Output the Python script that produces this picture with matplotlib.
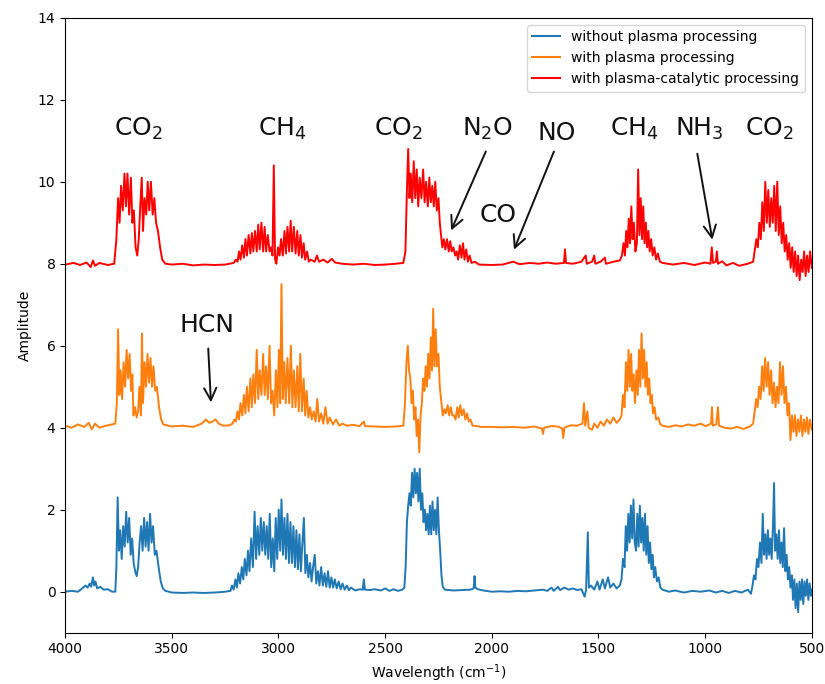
import matplotlib
matplotlib.use('Agg')
import matplotlib.pyplot as plt

# spectra: (wavenumber cm-1, amplitude) pairs
# blue - without plasma processing (offset 0)
blue = [
    (4000, 0.0), (3970, 0.02), (3940, 0.0), (3920, 0.08), (3905, 0.15), (3895, 0.1), (3885, 0.2), (3878, 0.12),
    (3870, 0.35), (3864, 0.15), (3858, 0.25), (3850, 0.08), (3835, 0.12), (3820, 0.05), (3800, 0.06), (3780, 0.0),
    (3765, 0.0), (3760, 0.6), (3754, 2.3), (3748, 1.0), (3742, 1.5), (3735, 0.8), (3728, 1.6), (3721, 1.1),
    (3714, 1.95), (3707, 1.2), (3700, 1.8), (3693, 0.9), (3686, 1.3), (3679, 0.7), (3672, 0.5), (3665, 0.38),
    (3658, 0.6), (3651, 1.2), (3644, 1.6), (3637, 1.0), (3630, 1.8), (3623, 1.1), (3616, 1.7), (3609, 1.0),
    (3602, 1.9), (3595, 1.2), (3588, 1.6), (3580, 0.9), (3572, 1.0), (3562, 0.6), (3552, 0.25), (3542, 0.08),
    (3530, 0.02), (3500, -0.02), (3450, -0.03), (3400, -0.02), (3350, -0.03), (3300, -0.02), (3250, 0.0),
    (3225, 0.02), (3218, 0.15), (3210, 0.05), (3202, 0.3), (3195, 0.1), (3188, 0.45), (3180, 0.2), (3172, 0.6),
    (3165, 0.3), (3158, 0.8), (3150, 0.4), (3143, 1.0), (3136, 0.5), (3128, 1.3), (3120, 0.6), (3112, 1.95),
    (3105, 0.8), (3098, 1.6), (3090, 0.9), (3083, 1.8), (3076, 1.0), (3069, 1.7), (3062, 0.9), (3055, 1.6),
    (3048, 0.8), (3041, 1.9), (3034, 0.6), (3027, 1.3), (3020, 0.5), (3013, 1.8), (3006, 0.8), (2999, 2.0),
    (2992, 1.0), (2986, 2.25), (2979, 0.9), (2972, 1.8), (2965, 0.8), (2958, 1.9), (2951, 0.7), (2944, 1.7),
    (2937, 0.7), (2930, 1.6), (2923, 0.6), (2916, 1.5), (2909, 0.55), (2902, 1.4), (2895, 0.5), (2888, 1.2),
    (2881, 1.8), (2874, 0.45), (2867, 0.9), (2860, 0.35), (2852, 0.7), (2845, 0.25), (2838, 0.6), (2830, 0.9),
    (2823, 0.2), (2815, 0.5), (2808, 0.15), (2800, 0.6), (2792, 0.15), (2784, 0.45), (2776, 0.12), (2768, 0.5),
    (2760, 0.1), (2752, 0.35), (2744, 0.1), (2736, 0.3), (2727, 0.08), (2718, 0.25), (2709, 0.06), (2700, 0.2),
    (2690, 0.05), (2680, 0.15), (2670, 0.04), (2660, 0.1), (2640, 0.03), (2620, 0.06), (2605, 0.05), (2600, 0.3),
    (2595, 0.05), (2570, 0.04), (2550, 0.06), (2520, 0.03), (2500, 0.08), (2480, 0.02), (2460, 0.06), (2440, 0.02),
    (2420, 0.05), (2410, 0.1), (2404, 0.6), (2398, 1.7), (2392, 2.1), (2386, 2.4), (2380, 2.1), (2374, 2.9),
    (2368, 2.3), (2362, 3.0), (2356, 2.4), (2350, 2.9), (2344, 2.2), (2338, 3.0), (2332, 2.0), (2326, 2.4),
    (2320, 1.7), (2314, 2.0), (2308, 1.5), (2302, 1.9), (2296, 1.4), (2290, 2.1), (2284, 1.4), (2278, 2.2),
    (2272, 1.5), (2266, 2.0), (2260, 1.4), (2254, 2.3), (2248, 1.5), (2242, 1.0), (2236, 0.4), (2230, 0.12),
    (2220, 0.05), (2180, 0.03), (2140, 0.04), (2100, 0.05), (2085, 0.08), (2081, 0.38), (2077, 0.1), (2065, 0.06),
    (2040, 0.03), (2000, 0.0), (1960, 0.01), (1920, 0.0), (1880, 0.02), (1840, 0.01), (1800, 0.03), (1760, 0.05),
    (1740, 0.02), (1720, 0.1), (1710, 0.02), (1690, 0.12), (1680, 0.04), (1660, 0.1), (1640, 0.05), (1620, 0.08),
    (1600, 0.04), (1580, 0.06), (1565, -0.12), (1558, 0.05), (1550, 1.45), (1545, 0.1), (1535, 0.15), (1520, 0.05),
    (1505, 0.25), (1495, 0.05), (1480, 0.3), (1470, 0.08), (1455, 0.35), (1445, 0.1), (1430, 0.2), (1415, 0.08),
    (1400, 0.15), (1392, 0.3), (1385, 0.8), (1378, 0.6), (1372, 1.6), (1366, 1.0), (1360, 1.9), (1354, 1.2),
    (1348, 2.1), (1342, 1.3), (1336, 2.25), (1330, 1.2), (1324, 1.0), (1318, 1.9), (1312, 1.1), (1306, 2.1),
    (1300, 1.2), (1294, 1.8), (1288, 1.0), (1282, 1.9), (1276, 0.9), (1270, 1.6), (1264, 0.7), (1258, 1.2),
    (1252, 0.55), (1246, 0.9), (1240, 0.35), (1234, 0.6), (1226, 0.25), (1218, 0.35), (1210, 0.1), (1200, 0.05),
    (1170, 0.0), (1140, 0.03), (1100, -0.02), (1060, 0.02), (1020, 0.0), (980, 0.03), (950, -0.02), (920, 0.02),
    (890, -0.03), (860, 0.02), (830, -0.02), (800, 0.05), (785, -0.05), (778, 0.15), (771, 0.4), (764, 0.3),
    (757, 0.8), (750, 0.6), (743, 1.2), (736, 0.7), (730, 1.9), (724, 0.9), (718, 1.4), (712, 0.8), (706, 1.5),
    (700, 0.9), (694, 1.3), (688, 0.8), (682, 1.6), (677, 2.65), (672, 1.0), (666, 1.4), (660, 0.8), (654, 1.5),
    (648, 0.7), (642, 1.2), (636, 0.6), (630, 1.55), (624, 0.5), (618, 0.9), (612, 0.3), (606, 0.6), (600, 0.1),
    (594, 0.4), (588, -0.2), (582, 0.3), (576, -0.4), (570, 0.2), (564, -0.5), (558, 0.25), (552, -0.2),
    (546, 0.3), (540, -0.3), (534, 0.25), (528, -0.1), (522, 0.3), (516, -0.2), (510, 0.2), (504, -0.1), (500, 0.05),
]

# orange - with plasma processing (offset 4)
orange = [
    (4000, 4.05), (3970, 4.0), (3940, 4.08), (3910, 4.02), (3890, 4.12), (3875, 3.96), (3860, 4.1), (3840, 4.0),
    (3810, 4.05), (3780, 4.08), (3765, 4.1), (3758, 4.6), (3752, 6.4), (3746, 4.8), (3740, 5.4), (3733, 4.7),
    (3726, 5.6), (3719, 5.0), (3712, 5.9), (3705, 5.2), (3698, 5.8), (3691, 4.9), (3685, 5.3), (3680, 4.3),
    (3672, 4.5), (3665, 4.25), (3658, 4.4), (3652, 5.0), (3645, 4.3), (3640, 6.3), (3635, 4.6), (3628, 5.6),
    (3621, 5.0), (3614, 5.8), (3607, 5.1), (3600, 5.7), (3593, 5.0), (3586, 5.5), (3578, 4.9), (3570, 5.0),
    (3560, 4.5), (3550, 4.2), (3540, 4.08), (3500, 4.03), (3450, 4.05), (3400, 4.02), (3360, 4.1), (3340, 4.2),
    (3325, 4.12), (3310, 4.15), (3295, 4.2), (3280, 4.1), (3260, 4.05), (3230, 4.06), (3215, 4.1), (3208, 4.2),
    (3200, 4.15), (3192, 4.4), (3185, 4.2), (3178, 4.6), (3170, 4.3), (3162, 4.8), (3155, 4.35), (3148, 5.0),
    (3140, 4.4), (3132, 5.2), (3125, 4.5), (3118, 5.3), (3110, 4.6), (3102, 5.9), (3095, 4.7), (3088, 5.4),
    (3080, 4.8), (3072, 5.8), (3065, 4.8), (3058, 5.5), (3050, 4.7), (3042, 6.0), (3035, 4.6), (3028, 4.9),
    (3020, 4.3), (3012, 5.4), (3005, 4.5), (2998, 5.9), (2992, 4.6), (2986, 7.5), (2980, 4.7), (2973, 5.6),
    (2966, 4.6), (2958, 5.7), (2950, 4.6), (2942, 6.0), (2935, 4.5), (2928, 5.4), (2920, 4.5), (2912, 5.5),
    (2905, 4.4), (2898, 5.8), (2890, 4.4), (2882, 5.2), (2875, 4.3), (2868, 4.9), (2860, 4.25), (2852, 4.5),
    (2844, 4.2), (2835, 4.4), (2826, 4.15), (2818, 4.7), (2810, 4.15), (2800, 4.35), (2790, 4.1), (2780, 4.5),
    (2770, 4.1), (2760, 4.25), (2745, 4.08), (2730, 4.2), (2715, 4.05), (2700, 4.1), (2680, 4.05), (2650, 4.07),
    (2620, 4.04), (2600, 4.15), (2595, 4.04), (2550, 4.03), (2500, 4.02), (2450, 4.03), (2415, 4.05), (2408, 4.5),
    (2400, 5.6), (2394, 6.0), (2388, 5.4), (2382, 5.2), (2376, 4.6), (2370, 4.9), (2364, 4.2), (2358, 4.5),
    (2352, 3.8), (2346, 4.2), (2340, 3.4), (2334, 4.3), (2328, 4.6), (2322, 5.2), (2316, 4.9), (2310, 5.5),
    (2304, 5.0), (2298, 5.8), (2292, 5.2), (2286, 6.2), (2280, 5.4), (2275, 6.9), (2269, 5.5), (2263, 6.4),
    (2257, 5.5), (2250, 5.8), (2244, 5.0), (2238, 4.7), (2230, 4.3), (2222, 4.45), (2215, 4.35), (2207, 4.55),
    (2200, 4.3), (2192, 4.5), (2185, 4.3), (2178, 4.3), (2170, 4.2), (2162, 4.5), (2155, 4.25), (2148, 4.55),
    (2140, 4.3), (2132, 4.45), (2124, 4.2), (2116, 4.35), (2108, 4.15), (2100, 4.2), (2090, 4.05), (2070, 4.04),
    (2050, 4.02), (2000, 4.02), (1950, 4.01), (1900, 4.02), (1850, 4.0), (1800, 4.03), (1765, 3.98), (1760, 3.85),
    (1755, 4.0), (1720, 4.04), (1690, 4.03), (1670, 3.98), (1665, 3.75), (1660, 4.0), (1630, 4.06), (1600, 4.05),
    (1575, 4.1), (1568, 4.6), (1562, 4.05), (1552, 4.4), (1546, 4.0), (1530, 3.95), (1520, 4.1), (1505, 4.0),
    (1490, 4.15), (1475, 4.05), (1460, 4.2), (1445, 4.1), (1430, 4.25), (1415, 4.12), (1400, 4.2), (1392, 4.3),
    (1385, 4.8), (1378, 4.5), (1371, 5.6), (1365, 4.9), (1359, 5.9), (1353, 5.0), (1347, 5.8), (1341, 4.9),
    (1335, 5.3), (1329, 4.6), (1322, 5.4), (1316, 4.8), (1310, 5.9), (1304, 5.0), (1298, 6.3), (1292, 5.2),
    (1286, 5.9), (1280, 5.0), (1274, 5.6), (1268, 4.8), (1262, 5.2), (1256, 4.6), (1250, 4.8), (1244, 4.35),
    (1237, 4.5), (1230, 4.2), (1220, 4.25), (1210, 4.08), (1200, 4.05), (1170, 4.02), (1140, 4.06), (1110, 4.03),
    (1080, 4.08), (1050, 4.05), (1020, 4.1), (1000, 4.04), (980, 4.08), (972, 4.1), (968, 4.5), (964, 4.05),
    (948, 4.08), (940, 4.5), (935, 4.05), (910, 4.0), (880, 3.98), (850, 4.02), (820, 3.97), (790, 4.03),
    (775, 4.1), (768, 4.4), (761, 4.7), (754, 4.5), (747, 5.0), (740, 4.7), (733, 5.5), (726, 4.9), (719, 5.7),
    (712, 5.0), (705, 5.6), (698, 4.8), (691, 5.4), (684, 4.6), (677, 5.1), (670, 4.5), (663, 5.0), (656, 4.6),
    (649, 5.6), (642, 4.8), (635, 5.5), (628, 4.6), (621, 5.0), (614, 4.3), (607, 4.6), (600, 3.7), (593, 4.3),
    (586, 3.9), (579, 4.3), (572, 3.8), (565, 4.2), (558, 3.9), (551, 4.3), (544, 3.8), (537, 4.2), (530, 3.9),
    (523, 4.25), (516, 3.85), (509, 4.2), (500, 3.95),
]

# red - with plasma-catalytic processing (offset 8)
red = [
    (4000, 7.98), (3960, 8.02), (3930, 7.97), (3900, 8.03), (3880, 7.92), (3870, 8.08), (3860, 7.95), (3840, 8.02),
    (3800, 7.97), (3770, 8.0), (3760, 8.6), (3752, 9.6), (3745, 9.0), (3738, 9.9), (3730, 9.3), (3722, 10.2),
    (3715, 9.4), (3708, 10.2), (3700, 9.2), (3692, 10.1), (3685, 9.0), (3678, 9.3), (3670, 8.4), (3662, 8.2),
    (3655, 8.6), (3648, 9.4), (3641, 10.1), (3635, 8.8), (3628, 9.6), (3620, 9.2), (3613, 10.0), (3606, 9.3),
    (3598, 10.0), (3590, 9.2), (3582, 9.6), (3574, 9.0), (3565, 8.8), (3555, 8.4), (3545, 8.1), (3530, 8.0),
    (3500, 7.98), (3450, 8.0), (3400, 7.96), (3350, 7.98), (3300, 7.97), (3250, 7.98), (3210, 8.02), (3200, 8.1),
    (3192, 8.05), (3185, 8.3), (3178, 8.1), (3170, 8.45), (3162, 8.15), (3155, 8.6), (3148, 8.2), (3140, 8.7),
    (3132, 8.25), (3125, 8.75), (3118, 8.3), (3110, 8.8), (3102, 8.3), (3095, 8.95), (3088, 8.35), (3080, 9.0),
    (3072, 8.3), (3065, 8.9), (3058, 8.3), (3050, 8.7), (3042, 8.3), (3035, 8.4), (3028, 8.2), (3022, 10.4),
    (3016, 8.1), (3010, 8.0), (3002, 8.4), (2995, 8.2), (2988, 8.6), (2980, 8.2), (2972, 8.8), (2965, 8.25),
    (2958, 8.9), (2950, 8.3), (2943, 9.05), (2936, 8.3), (2928, 8.9), (2920, 8.25), (2912, 8.8), (2905, 8.2),
    (2897, 8.7), (2890, 8.15), (2882, 8.5), (2875, 8.1), (2866, 8.3), (2858, 8.05), (2850, 8.1), (2830, 8.05),
    (2820, 8.2), (2810, 8.05), (2790, 8.1), (2770, 8.03), (2750, 8.12), (2735, 8.03), (2700, 8.0), (2650, 7.98),
    (2600, 8.0), (2550, 7.97), (2500, 7.98), (2450, 8.0), (2415, 8.02), (2405, 8.3), (2398, 9.8), (2392, 10.8),
    (2386, 9.6), (2380, 10.2), (2373, 9.5), (2366, 10.5), (2359, 9.6), (2352, 10.3), (2345, 9.4), (2338, 10.1),
    (2330, 9.6), (2322, 10.3), (2315, 9.5), (2308, 10.0), (2300, 9.4), (2293, 10.1), (2286, 9.5), (2279, 9.9),
    (2272, 9.4), (2265, 10.0), (2258, 9.3), (2250, 9.6), (2244, 9.0), (2238, 8.7), (2232, 8.4), (2225, 8.6),
    (2218, 8.35), (2210, 8.6), (2202, 8.3), (2195, 8.55), (2188, 8.3), (2180, 8.4), (2172, 8.2), (2165, 8.3),
    (2158, 8.1), (2150, 8.45), (2142, 8.15), (2135, 8.5), (2128, 8.1), (2120, 8.35), (2112, 8.05), (2104, 8.2),
    (2095, 8.02), (2080, 8.05), (2060, 7.98), (2000, 7.97), (1950, 7.98), (1900, 8.05), (1870, 7.99), (1820, 8.02),
    (1780, 8.0), (1740, 8.03), (1700, 8.0), (1662, 8.02), (1657, 8.35), (1652, 8.02), (1620, 8.0), (1580, 8.05),
    (1560, 8.2), (1555, 8.0), (1530, 8.05), (1520, 8.2), (1515, 8.0), (1490, 8.05), (1470, 8.15), (1465, 8.0),
    (1430, 8.05), (1400, 8.08), (1390, 8.2), (1383, 8.5), (1376, 8.2), (1370, 8.8), (1364, 8.4), (1358, 9.1),
    (1352, 8.5), (1346, 9.4), (1340, 8.6), (1334, 9.0), (1327, 8.3), (1320, 8.5), (1314, 10.3), (1308, 8.7),
    (1302, 9.6), (1296, 8.6), (1290, 9.4), (1284, 8.5), (1278, 9.0), (1272, 8.4), (1266, 8.8), (1260, 8.3),
    (1253, 8.6), (1246, 8.2), (1238, 8.4), (1230, 8.1), (1222, 8.25), (1212, 8.05), (1200, 8.02), (1150, 7.98),
    (1100, 8.02), (1050, 7.97), (1000, 8.03), (975, 8.0), (969, 8.4), (963, 8.02), (950, 8.05), (945, 8.3),
    (940, 8.0), (920, 8.06), (900, 7.96), (870, 8.02), (840, 7.95), (800, 8.0), (775, 8.05), (768, 8.3),
    (760, 8.6), (753, 8.4), (746, 9.0), (739, 8.6), (732, 9.5), (725, 8.8), (718, 10.0), (711, 9.0), (704, 9.8),
    (697, 8.9), (690, 9.6), (683, 9.0), (676, 9.9), (669, 8.8), (662, 10.0), (655, 8.7), (648, 9.4), (641, 8.5),
    (634, 9.0), (627, 8.3), (620, 8.7), (613, 8.1), (606, 8.5), (599, 7.9), (592, 8.4), (585, 7.8), (578, 8.3),
    (571, 7.7), (564, 8.2), (557, 7.6), (550, 8.1), (543, 7.8), (536, 8.3), (529, 7.7), (522, 8.2), (515, 7.8),
    (508, 8.3), (500, 7.9),
]

series_labels = ['without plasma processing', 'with plasma processing', 'with plasma-catalytic processing']
series_colors = ['#1f77b4', '#ff7f0e', 'red']

# gas labels (text, wavenumber, amplitude)
gas_labels = [
    ('CO$_2$', 3658, 11.3), ('CH$_4$', 2983, 11.3), ('CO$_2$', 2440, 11.3),
    ('N$_2$O', 2018, 11.3), ('NO', 1695, 11.2), ('CH$_4$', 1330, 11.3),
    ('NH$_3$', 1025, 11.3), ('CO$_2$', 697, 11.3), ('CO', 1971, 9.2), ('HCN', 3335, 6.5),
]
# arrows (from wavenumber, from amplitude, to wavenumber, to amplitude)
arrows = [
    (2023, 10.8, 2196, 8.75),
    (1704, 10.8, 1901, 8.28),
    (1039, 10.75, 964, 8.52),
    (3330, 6.0, 3316, 4.55),
]

fig = plt.figure(figsize=(8.25, 6.84), dpi=100)
ax = fig.add_axes([0.079, 0.075, 0.905, 0.899])

for data, lab, col in zip([blue, orange, red], series_labels, series_colors):
    xs = [p[0] for p in data]
    ys = [p[1] for p in data]
    ax.plot(xs, ys, color=col, lw=1.4, label=lab)

for txt, x, y in gas_labels:
    ax.text(x, y, txt, fontsize=18, ha='center', va='center', color='#111111')

for x0, y0, x1, y1 in arrows:
    ax.annotate('', xy=(x1, y1), xytext=(x0, y0),
                arrowprops=dict(arrowstyle='->', lw=1.4, color='#111111', mutation_scale=22))

ax.set_xlim(4000, 500)
ax.set_ylim(-1, 14)
ax.set_yticks(range(0, 15, 2))
ax.set_xlabel('Wavelength (cm$^{-1}$)')
ax.set_ylabel('Amplitude')
leg = ax.legend(loc='upper right')
for line in leg.get_lines():
    line.set_linewidth(1.5)

fig.savefig('out.png', dpi=100)
